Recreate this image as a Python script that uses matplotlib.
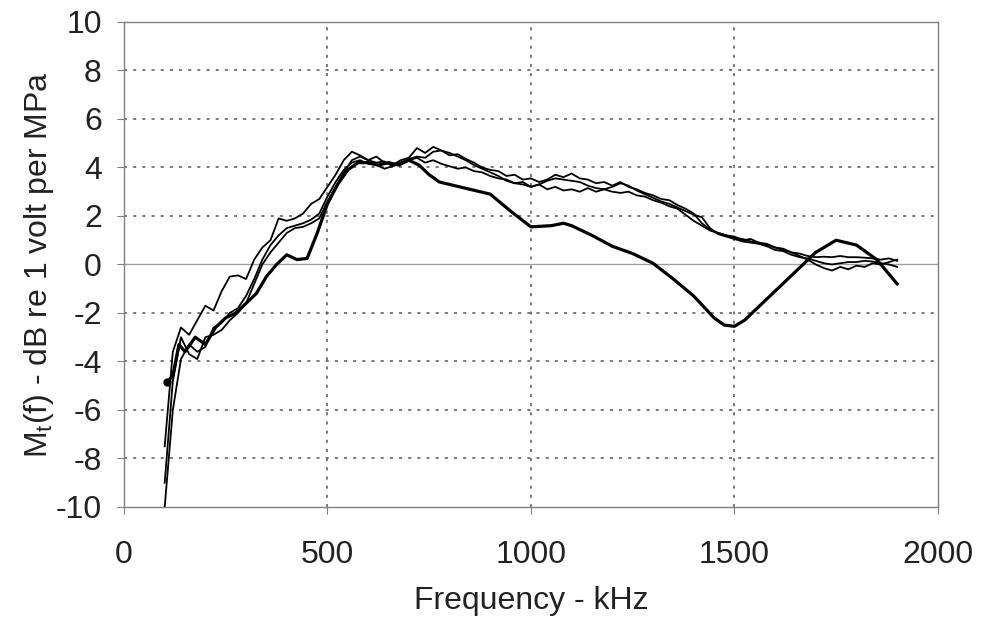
import numpy as np
import matplotlib
matplotlib.use("Agg")
import matplotlib.pyplot as plt

plt.rcParams['font.family'] = ['Liberation Sans', 'DejaVu Sans']
plt.rcParams['axes.unicode_minus'] = False

# Frequency grid for the three thin (noisy) curves, kHz
freq_thin = np.arange(100, 1901, 20)

curve_b = [-7.5, -3.6, -2.6, -2.9, -2.3, -1.7, -1.9, -1.1, -0.5, -0.45,
           -0.6, 0.2, 0.7, 1.0, 1.9, 1.8, 1.9, 2.1, 2.5, 2.7,
           3.2, 3.7, 4.3, 4.65, 4.5, 4.3, 4.45, 4.2, 4.1, 4.3,
           4.4, 4.8, 4.6, 4.85, 4.7, 4.5, 4.55, 4.35, 4.2, 4.0,
           3.9, 3.85, 3.65, 3.7, 3.5, 3.55, 3.4, 3.5, 3.7, 3.6,
           3.75, 3.55, 3.5, 3.35, 3.4, 3.25, 3.4, 3.2, 3.1, 2.95,
           2.85, 2.7, 2.65, 2.45, 2.3, 2.1, 1.7, 1.45, 1.3, 1.2,
           1.15, 1.0, 1.05, 0.9, 0.85, 0.7, 0.65, 0.5, 0.45, 0.35,
           0.3, 0.32, 0.3, 0.35, 0.3, 0.3, 0.28, 0.25, 0.2, 0.25,
           0.15]

curve_c = [-10.0, -6.0, -3.9, -3.3, -3.6, -3.4, -2.6, -2.4, -2.0, -1.8,
           -1.3, -0.6, 0.2, 0.8, 1.2, 1.5, 1.6, 1.7, 1.85, 2.1,
           2.8, 3.4, 3.9, 4.2, 4.3, 4.15, 4.1, 3.95, 4.05, 4.2,
           4.3, 4.4, 4.2, 4.3, 4.15, 4.05, 3.95, 4.0, 3.85, 3.8,
           3.65, 3.55, 3.5, 3.35, 3.4, 3.2, 3.3, 3.1, 3.2, 3.05,
           3.1, 3.0, 3.15, 3.0, 3.1, 3.0, 2.95, 3.0, 2.85, 2.8,
           2.65, 2.55, 2.4, 2.3, 2.05, 1.8, 1.6, 1.4, 1.3, 1.2,
           1.1, 1.05, 0.95, 0.9, 0.8, 0.7, 0.6, 0.5, 0.35, 0.2,
           0.0, -0.15, -0.25, -0.1, -0.2, -0.05, -0.1, 0.05, 0.0, 0.1,
           0.2]

curve_d = [-9.0, -4.8, -3.0, -3.7, -3.9, -3.0, -2.9, -2.7, -2.3, -2.0,
           -1.6, -0.8, 0.0, 0.5, 0.9, 1.3, 1.5, 1.55, 1.7, 1.9,
           2.6, 3.2, 3.8, 4.3, 4.45, 4.3, 4.2, 4.25, 4.05, 4.2,
           4.35, 4.45, 4.4, 4.65, 4.7, 4.6, 4.45, 4.3, 4.1, 3.95,
           3.8, 3.65, 3.45, 3.35, 3.3, 3.2, 3.3, 3.45, 3.55, 3.5,
           3.45, 3.4, 3.25, 3.15, 3.1, 3.2, 3.35, 3.25, 3.05, 2.9,
           2.75, 2.6, 2.5, 2.35, 2.2, 2.05, 1.95, 1.5, 1.25, 1.15,
           1.05, 0.95, 0.9, 0.85, 0.75, 0.6, 0.55, 0.4, 0.3, 0.25,
           0.15, 0.05, 0.0, 0.05, 0.1, 0.1, 0.15, 0.12, 0.05, 0.0,
           -0.1]

# Thick (smooth) curve
freq_thick = [105, 120, 135, 150, 175, 200, 225, 250, 275, 300,
              325, 350, 375, 400, 425, 450, 475, 500, 525, 550,
              575, 600, 625, 650, 675, 700, 725, 750, 775, 800,
              850, 900, 950, 1000, 1050, 1080, 1100, 1150, 1200, 1250,
              1300, 1350, 1400, 1450, 1475, 1500, 1525, 1550, 1600, 1650,
              1700, 1750, 1800, 1850, 1900]
curve_a = [-4.85, -4.6, -3.3, -3.6, -3.0, -3.3, -2.6, -2.2, -2.0, -1.6,
           -1.2, -0.5, 0.0, 0.4, 0.2, 0.25, 1.3, 2.5, 3.3, 3.9,
           4.2, 4.2, 4.1, 4.2, 4.1, 4.3, 4.1, 3.7, 3.4, 3.3,
           3.1, 2.9, 2.2, 1.55, 1.6, 1.7, 1.6, 1.2, 0.75, 0.45,
           0.05, -0.6, -1.3, -2.2, -2.5, -2.55, -2.3, -1.9, -1.1, -0.3,
           0.5, 1.0, 0.8, 0.2, -0.8]

x_ticks = [0, 500, 1000, 1500, 2000]
y_ticks = [-10, -8, -6, -4, -2, 0, 2, 4, 6, 8, 10]

fig = plt.figure(figsize=(9.81, 6.19), dpi=100)
ax = fig.add_axes([0.1264, 0.181, 0.8296, 0.7835])

ax.set_xlim(0, 2000)
ax.set_ylim(-10, 10)
ax.set_xticks(x_ticks)
ax.set_yticks(y_ticks)

# dotted grid
for yv in y_ticks:
    if yv in (-10, 10):
        continue
    if yv == 0:
        ax.axhline(0, color='#a0a0a0', lw=1.0, zorder=1)
    else:
        ax.axhline(yv, color='#555555', lw=1.1, ls=(0, (2, 4)), zorder=1)
for xv in x_ticks[1:-1]:
    ax.axvline(xv, color='#555555', lw=1.1, ls=(0, (2, 4)), zorder=1)

ax.plot(freq_thin, curve_b, color='black', lw=1.3, zorder=3)
ax.plot(freq_thin, curve_c, color='black', lw=1.3, zorder=3)
ax.plot(freq_thin, curve_d, color='black', lw=1.3, zorder=3)
ax.plot(freq_thick, curve_a, color='black', lw=2.3, zorder=4)
ax.plot(freq_thick[0], curve_a[0], 'o', color='black', ms=5, zorder=5)

for s in ax.spines.values():
    s.set_color('#808080')
    s.set_linewidth(1.0)

ax.tick_params(axis='both', direction='out', length=5, color='#808080',
               labelsize=23, labelcolor='#222222')
ax.tick_params(axis='x', pad=19)
ax.tick_params(axis='y', pad=11)
ax.tick_params(top=False, right=False)

ax.set_xlabel('Frequency - kHz', fontsize=23, color='#222222', labelpad=11)
ax.set_ylabel('M$_\\mathregular{t}$(f) - dB re 1 volt per MPa', fontsize=23,
              color='#222222', labelpad=0)

fig.savefig('out.png', dpi=100)
